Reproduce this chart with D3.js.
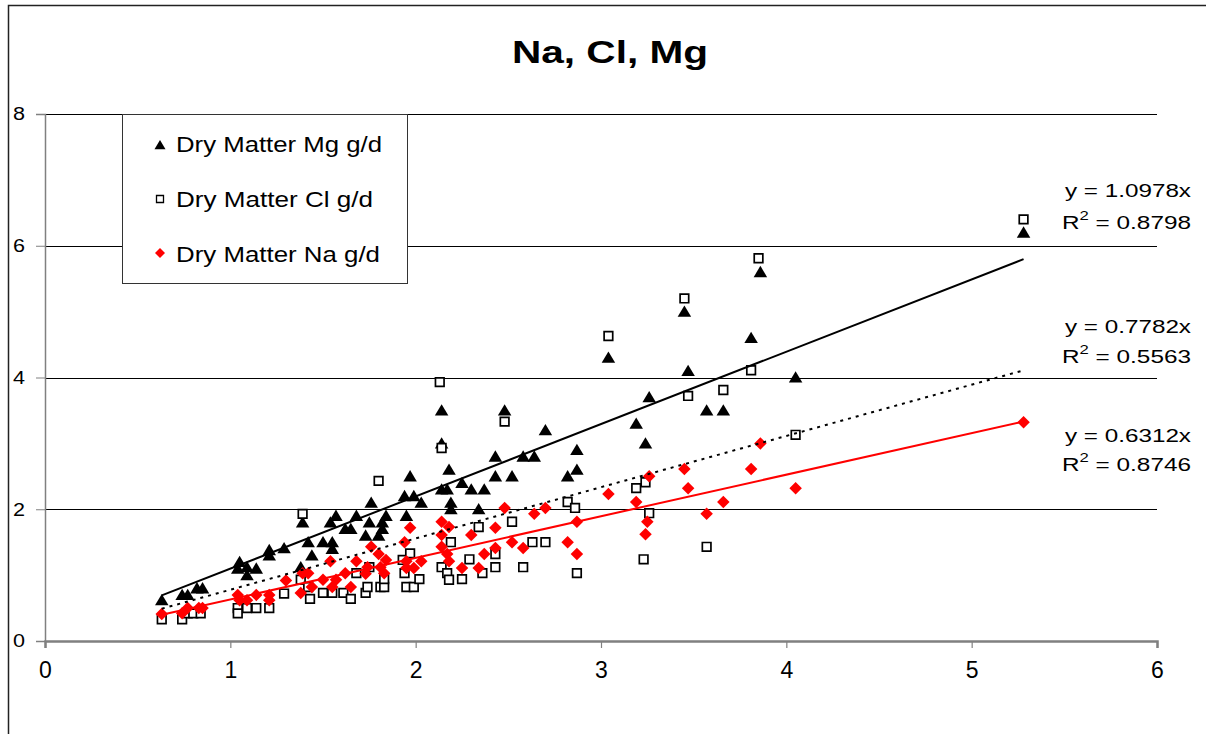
<!DOCTYPE html>
<html>
<head>
<meta charset="utf-8">
<script src="https://cdn.jsdelivr.net/npm/d3@7"></script>
<style>
  html, body { margin: 0; padding: 0; background: #fff; }
  svg { display: block; font-family: "Liberation Sans", Arial, sans-serif; }
</style>
</head>
<body>
<svg id="chart" width="1206" height="734"></svg>
<script>
// ---- Data ----
const title = "Na, Cl, Mg";
const xTicks = [0, 1, 2, 3, 4, 5, 6];
const yTicks = [0, 2, 4, 6, 8];

const seriesNames = ["Dry Matter Mg g/d", "Dry Matter Cl g/d", "Dry Matter Na g/d"];

const mgX = [0.63,0.74,0.77,0.82,0.85,1.05,1.04,1.09,1.09,1.14,1.21,1.21,1.29,1.38,1.39,1.42,1.44,1.50,1.55,1.55,1.54,1.57,1.62,1.65,1.68,1.73,1.75,1.76,1.80,1.82,1.82,1.84,1.94,1.95,1.97,1.99,2.03,2.14,2.14,2.14,2.17,2.18,2.19,2.19,2.25,2.30,2.34,2.37,2.43,2.43,2.48,2.52,2.58,2.64,2.70,2.82,2.87,2.87,3.04,3.19,3.24,3.26,3.45,3.47,3.57,3.66,3.81,3.86,4.05,5.28];
const mgY = [0.62,0.70,0.70,0.80,0.80,1.20,1.10,1.12,1.00,1.10,1.38,1.30,1.41,1.12,1.80,1.50,1.30,1.50,1.50,1.40,1.80,1.90,1.70,1.70,1.90,1.60,1.80,2.10,1.60,1.80,1.70,1.90,2.20,1.90,2.50,2.20,2.10,3.50,3.00,2.30,2.30,2.60,2.10,2.00,2.40,2.30,2.00,2.30,2.80,2.50,3.50,2.50,2.80,2.80,3.20,2.50,2.90,2.60,4.30,3.30,3.00,3.70,5.00,4.10,3.50,3.50,4.60,5.60,4.00,6.20];

const clX = [0.63,0.74,0.77,0.80,0.84,1.04,1.04,1.09,1.14,1.21,1.29,1.39,1.38,1.42,1.43,1.50,1.55,1.61,1.65,1.68,1.73,1.74,1.75,1.80,1.81,1.83,1.83,1.93,1.94,1.95,1.97,1.99,2.02,2.13,2.14,2.14,2.17,2.18,2.19,2.25,2.29,2.34,2.36,2.43,2.43,2.48,2.52,2.58,2.63,2.70,2.82,2.86,2.87,3.04,3.19,3.23,3.24,3.26,3.45,3.47,3.57,3.66,3.81,3.85,4.05,5.28];
const clY = [0.33,0.33,0.42,0.42,0.42,0.50,0.42,0.50,0.50,0.50,0.72,1.93,0.93,0.82,0.64,0.73,0.73,0.73,0.64,1.03,0.73,0.82,1.12,2.43,0.82,0.82,0.94,1.23,1.03,0.82,1.33,0.82,0.94,3.93,2.93,1.12,1.03,0.93,1.50,0.94,1.24,1.73,1.03,1.32,1.12,3.33,1.81,1.12,1.50,1.50,2.11,2.02,1.03,4.63,2.32,1.24,2.41,1.94,5.20,3.72,1.43,3.81,4.11,5.81,3.13,6.40];

const naX = [0.63,0.74,0.77,0.83,0.85,1.04,1.05,1.09,1.14,1.21,1.21,1.30,1.38,1.39,1.42,1.44,1.50,1.54,1.55,1.57,1.62,1.65,1.68,1.73,1.74,1.76,1.80,1.81,1.83,1.84,1.94,1.95,1.95,1.97,1.99,2.03,2.14,2.14,2.14,2.17,2.18,2.18,2.25,2.30,2.34,2.37,2.43,2.43,2.48,2.52,2.58,2.64,2.70,2.82,2.87,2.87,3.04,3.19,3.24,3.25,3.26,3.45,3.47,3.57,3.66,3.81,3.86,4.05,5.28];
const naY = [0.41,0.42,0.50,0.50,0.50,0.70,0.62,0.62,0.70,0.70,0.62,0.92,0.73,1.03,1.03,0.82,0.93,1.21,0.82,0.93,1.03,0.82,1.21,1.02,1.12,1.43,1.32,1.12,1.03,1.23,1.50,1.21,1.11,1.72,1.11,1.21,1.81,1.61,1.43,1.32,1.73,1.21,1.11,1.61,1.11,1.32,1.72,1.41,2.02,1.50,1.41,1.93,2.02,1.50,1.81,1.32,2.23,2.11,1.62,1.81,2.50,2.61,2.32,1.93,2.11,2.61,3.00,2.32,3.32];

const slopes = [1.0978, 0.7782, 0.6312];
const r2 = ["0.8798", "0.5563", "0.8746"];

// ---- Layout ----
const svg = d3.select("#chart");
const x = d3.scaleLinear().domain([0, 6]).range([45, 1157]);
const y = d3.scaleLinear().domain([0, 8]).range([641, 114]);

// outer chart border (top & left visible)
svg.append("path").attr("d", "M8.5,734 L8.5,5.5 L1206,5.5")
  .attr("fill", "none").attr("stroke", "#222").attr("stroke-width", 1.5);

// title
svg.append("text").attr("x", 610).attr("y", 63).attr("text-anchor", "middle")
  .attr("font-weight", "bold").attr("font-size", 32)
  .attr("textLength", 196).attr("lengthAdjust", "spacingAndGlyphs")
  .text(title);

// gridlines
svg.append("g").selectAll("line").data(yTicks.filter(d => d > 0)).join("line")
  .attr("x1", x(0)).attr("x2", x(6))
  .attr("y1", d => Math.round(y(d)) + 0.5).attr("y2", d => Math.round(y(d)) + 0.5)
  .attr("stroke", "#000").attr("stroke-width", 1);

// y axis
const yAxis = svg.append("g").attr("transform", `translate(${x(0)},0)`)
  .call(d3.axisLeft(y).tickValues(yTicks).tickSize(9).tickPadding(11).tickFormat(d3.format("d")));
yAxis.select(".domain").attr("stroke", "#808080").attr("stroke-width", 1.5);
yAxis.selectAll(".tick line").attr("stroke", "#808080");
yAxis.selectAll(".tick text").attr("font-size", 18).attr("fill", "#000")
  .attr("font-family", "Liberation Sans, Arial, sans-serif")
  .attr("textLength", 12).attr("lengthAdjust", "spacingAndGlyphs");

// x axis
const xAxis = svg.append("g").attr("transform", `translate(0,${y(0)})`)
  .call(d3.axisBottom(x).tickValues(xTicks).tickSize(7).tickPadding(14).tickFormat(d3.format("d")));
xAxis.select(".domain").attr("stroke", "#808080").attr("stroke-width", 2.5);
xAxis.selectAll(".tick line").attr("stroke", "#808080").attr("stroke-width", 1.2);
xAxis.selectAll(".tick text").attr("font-size", 23).attr("fill", "#000")
  .attr("font-family", "Liberation Sans, Arial, sans-serif");

// ---- marker shapes ----
const triangle = { draw(ctx, s) { const w = s * 0.5, h = s * 0.42; ctx.moveTo(0, -h * 0.55); ctx.lineTo(w * 0.5, h * 0.45); ctx.lineTo(-w * 0.5, h * 0.45); ctx.closePath(); } };
const square = { draw(ctx, s) { const a = s / 2; ctx.rect(-a, -a, 2 * a, 2 * a); } };
const diamond = { draw(ctx, s) { const a = s / 2; ctx.moveTo(0, -a); ctx.lineTo(a, 0); ctx.lineTo(0, a); ctx.lineTo(-a, 0); ctx.closePath(); } };

const sym = (type, size) => d3.symbol().type(type).size(size)();

const plot = svg.append("g");
const mgData = mgX.map((v, i) => [v, mgY[i]]);
const clData = clX.map((v, i) => [v, clY[i]]);
const naData = naX.map((v, i) => [v, naY[i]]);

plot.append("g").selectAll("path").data(mgData).join("path")
  .attr("transform", d => `translate(${x(d[0])},${y(d[1])})`)
  .attr("d", sym(triangle, 27)).attr("fill", "#000");

plot.append("g").selectAll("path").data(clData).join("path")
  .attr("transform", d => `translate(${x(d[0])},${y(d[1])})`)
  .attr("d", sym(square, 8.6)).attr("fill", "#fff").attr("stroke", "#000").attr("stroke-width", 1.7);

plot.append("g").selectAll("path").data(naData).join("path")
  .attr("transform", d => `translate(${x(d[0])},${y(d[1])})`)
  .attr("d", sym(diamond, 12.5)).attr("fill", "#ff0000");

// ---- trendlines ----
const datasets = [mgData, clData, naData];
const lineStyles = [
  { stroke: "#000", dash: null, w: 2 },
  { stroke: "#000", dash: "3,5", w: 2 },
  { stroke: "#ff0000", dash: null, w: 2 }
];
const line = d3.line().x(d => x(d[0])).y(d => y(d[1]));
datasets.forEach((ds, i) => {
  const ext = d3.extent(ds, d => d[0]);
  const pts = ext.map(v => [v, slopes[i] * v]);
  plot.append("path").attr("d", line(pts)).attr("fill", "none")
    .attr("stroke", lineStyles[i].stroke).attr("stroke-width", lineStyles[i].w)
    .attr("stroke-dasharray", lineStyles[i].dash);
});

// ---- trendline labels ----
const labelBase = [[197, 229], [333, 363], [442, 471]];
slopes.forEach((s, i) => {
  svg.append("text").attr("x", 1191).attr("y", labelBase[i][0]).attr("text-anchor", "end")
    .attr("font-size", 19).attr("textLength", 126).attr("lengthAdjust", "spacingAndGlyphs")
    .text(`y = ${s}x`);
  const t = svg.append("text").attr("x", 1191).attr("y", labelBase[i][1]).attr("text-anchor", "end")
    .attr("font-size", 19);
  t.append("tspan").text("R");
  t.append("tspan").attr("font-size", 13).attr("dy", -9).text("2");
  t.append("tspan").attr("dy", 9).text(` = ${r2[i]}`);
  t.attr("textLength", 129).attr("lengthAdjust", "spacingAndGlyphs");
});

// ---- legend ----
const lg = svg.append("g");
lg.append("rect").attr("x", 122.5).attr("y", 114.5).attr("width", 285).attr("height", 169)
  .attr("fill", "#fff").attr("stroke", "#333").attr("stroke-width", 1);
const legendRows = [
  { name: seriesNames[0], shape: sym(triangle, 22), fill: "#000", stroke: null, cy: 145, base: 152 },
  { name: seriesNames[1], shape: sym(square, 7), fill: "#fff", stroke: "#000", cy: 199, base: 207 },
  { name: seriesNames[2], shape: sym(diamond, 10), fill: "#ff0000", stroke: null, cy: 253, base: 262 }
];
const textLens = [206, 197, 204];
legendRows.forEach((r, i) => {
  lg.append("path").attr("transform", `translate(160,${r.cy})`).attr("d", r.shape)
    .attr("fill", r.fill).attr("stroke", r.stroke).attr("stroke-width", r.stroke ? 1.3 : null);
  lg.append("text").attr("x", 176).attr("y", r.base).attr("font-size", 22)
    .attr("textLength", textLens[i]).attr("lengthAdjust", "spacingAndGlyphs").text(r.name);
});
</script>
</body>
</html>
